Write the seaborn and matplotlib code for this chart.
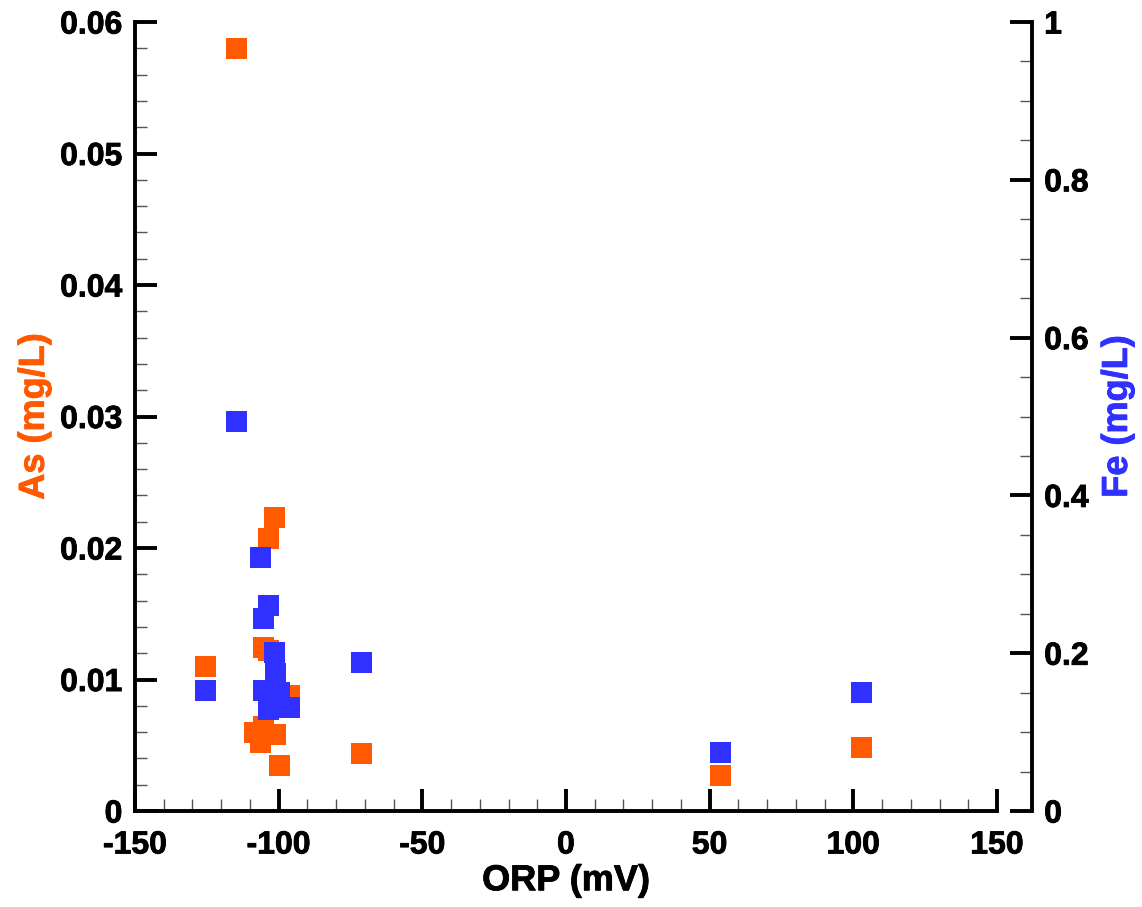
import numpy as np
import pandas as pd
import matplotlib
matplotlib.use("Agg")
import matplotlib.pyplot as plt
import matplotlib.ticker as ticker
import matplotlib.patheffects as pe
import seaborn as sns

# ORP (mV) vs As (mg/L), left axis
orp_as = [-114.5, -101.4, -103.5, -105.2, -103.5, -125.4, -96.2, -108.4,
          -105.2, -101.0, -106.3, -99.7, -71.2, 53.8, 103.0]
as_mgl = [0.0580, 0.0223, 0.0207, 0.0124, 0.0122, 0.0110, 0.0088, 0.0060,
          0.0064, 0.0058, 0.0052, 0.0035, 0.0044, 0.0027, 0.0048]

# ORP (mV) vs Fe (mg/L), right axis
orp_fe = [-114.5, -106.3, -103.5, -105.2, -101.4, -101.0, -125.4, -105.2,
          -99.7, -96.2, -103.5, -71.2, 53.8, 103.0]
fe_mgl = [0.494, 0.321, 0.261, 0.244, 0.201, 0.174, 0.153, 0.153,
          0.150, 0.131, 0.129, 0.188, 0.074, 0.150]

orange = "#ff5a00"
blue = "#3030ff"

sns.set_theme(style="ticks")
plt.rcParams['font.family'] = ['Liberation Sans', 'DejaVu Sans']
plt.rcParams['font.weight'] = 'bold'
plt.rcParams['axes.unicode_minus'] = False
plt.rcParams['text.color'] = 'black'
plt.rcParams['axes.labelcolor'] = 'black'
plt.rcParams['xtick.color'] = 'black'
plt.rcParams['ytick.color'] = 'black'

df_as = pd.DataFrame({"ORP": orp_as, "As": as_mgl})
df_fe = pd.DataFrame({"ORP": orp_fe, "Fe": fe_mgl})

fig = plt.figure(figsize=(11.42, 9.07), dpi=100)
ax = fig.add_axes([0.1182, 0.1058, 0.873 - 0.1182, 0.9757 - 0.1058])
ax2 = ax.twinx()

msize = 228
sns.scatterplot(data=df_as, x="ORP", y="As", ax=ax, marker="s", s=msize,
                color=orange, edgecolor="none", linewidth=0, legend=False)
sns.scatterplot(data=df_fe, x="ORP", y="Fe", ax=ax2, marker="s", s=msize,
                color=blue, edgecolor="none", linewidth=0, legend=False)

ax.set_xlim(-150, 150)
ax.set_ylim(0, 0.06)
ax2.set_ylim(0, 1)

ax.xaxis.set_major_locator(ticker.MultipleLocator(50))
ax.xaxis.set_minor_locator(ticker.MultipleLocator(10))
ax.yaxis.set_major_locator(ticker.MultipleLocator(0.01))
ax.yaxis.set_minor_locator(ticker.MultipleLocator(0.002))
ax2.yaxis.set_major_locator(ticker.MultipleLocator(0.2))
ax2.yaxis.set_minor_locator(ticker.MultipleLocator(0.05))
fmt = ticker.FuncFormatter(lambda v, p: f"{v:g}")
ax.xaxis.set_major_formatter(fmt)
ax.yaxis.set_major_formatter(fmt)
ax2.yaxis.set_major_formatter(fmt)

for a in (ax, ax2):
    for s in a.spines.values():
        s.set_visible(False)
        s.set_linewidth(2.8)
        s.set_color("black")
ax.spines['left'].set_visible(True)
ax.spines['bottom'].set_visible(True)
ax2.spines['right'].set_visible(True)
ax2.spines['right'].set_position(('outward', 25))

for a in (ax, ax2):
    a.tick_params(which='major', direction='in', length=16, width=2.8,
                  color='black', labelcolor='black', labelsize=23, pad=9)
    a.tick_params(which='minor', direction='in', length=8.5, width=1.0,
                  color='#555555')
ax.tick_params(axis='x', pad=14)
ax.tick_params(top=False, right=False, which='both')
ax2.tick_params(left=False, which='both')

bold_fx = [pe.withStroke(linewidth=0.6, foreground='black')]
for lab in ax.get_xticklabels() + ax.get_yticklabels() + ax2.get_yticklabels():
    lab.set_fontweight('bold')
    lab.set_path_effects(bold_fx)

ax.set_xlabel("ORP (mV)", fontsize=26, fontweight='bold', color='black', labelpad=2)
ax.set_ylabel("As (mg/L)", fontsize=26, fontweight='bold', color=orange, labelpad=6)
ax2.set_ylabel("Fe (mg/L)", fontsize=26, fontweight='bold', color=blue, labelpad=8)
ax2.yaxis.label.set_rotation(90)
ax.xaxis.label.set_path_effects(bold_fx)
ax.yaxis.label.set_path_effects([pe.withStroke(linewidth=0.6, foreground=orange)])
ax2.yaxis.label.set_path_effects([pe.withStroke(linewidth=0.6, foreground=blue)])

for coll in ax.collections + ax2.collections:
    coll.set_clip_on(False)

fig.savefig("out.png", dpi=100)
